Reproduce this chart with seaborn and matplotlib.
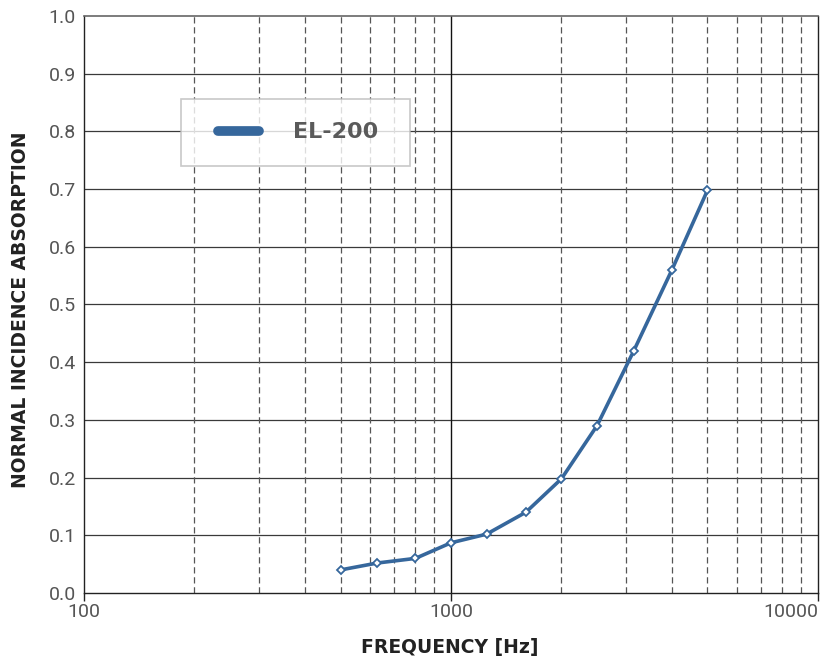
import numpy as np
import pandas as pd
import seaborn as sns
from matplotlib import pyplot as plt
from matplotlib.ticker import FixedLocator, NullFormatter
from matplotlib.lines import Line2D
from matplotlib.legend_handler import HandlerLine2D

# one-third octave band centre frequencies and measured absorption
frequency = [500, 630, 800, 1000, 1250, 1600, 2000, 2500, 3150, 4000, 5000]
absorption = [0.040, 0.052, 0.060, 0.087, 0.102, 0.140, 0.198, 0.290, 0.420, 0.560, 0.698]
series_name = "EL-200"
y_ticks = [0.0, 0.1, 0.2, 0.3, 0.4, 0.5, 0.6, 0.7, 0.8, 0.9, 1.0]
x_ticks = [100, 1000, 10000]

df = pd.DataFrame({"Frequency": frequency, "Absorption": absorption})

sns.set_style("white")
plt.rcParams['font.family'] = ['Roboto', 'DejaVu Sans']

line_color = "#36679c"

fig = plt.figure(figsize=(8.35, 6.6), dpi=100)
ax = fig.add_axes([0.1006, 0.1015, 0.879, 0.8743])

sns.lineplot(data=df, x="Frequency", y="Absorption", ax=ax, color=line_color,
             linewidth=2.6, marker="D", markersize=4.5, markerfacecolor="white",
             markeredgecolor=line_color, markeredgewidth=1.3, zorder=5)

ax.set_xscale("log")
ax.set_xlim(100, 10000)
ax.set_ylim(0, 1.0)

ax.xaxis.set_major_locator(FixedLocator(x_ticks))
ax.xaxis.set_minor_locator(FixedLocator([m * d for d in (100, 1000) for m in range(2, 10)]))
ax.xaxis.set_minor_formatter(NullFormatter())
ax.set_xticklabels([str(v) for v in x_ticks])
ax.get_xticklabels()[-1].set_horizontalalignment("right")
ax.set_yticks(y_ticks)
ax.set_yticklabels(["{:.1f}".format(v) for v in y_ticks])

# grid: solid horizontals, dashed minor verticals, solid at 1000
for v in y_ticks[1:-1]:
    ax.axhline(v, color="#3a3a3a", linewidth=0.9, zorder=1)
for v in ax.xaxis.get_minorticklocs():
    ax.axvline(v, color="#555555", linewidth=0.9, linestyle=(0, (5, 3)), zorder=1)
ax.axvline(1000, color="#111111", linewidth=1.0, zorder=1)

for side in ["left", "right", "bottom"]:
    ax.spines[side].set_color("#222222")
    ax.spines[side].set_linewidth(1.0)
ax.spines["top"].set_color("#666666")
ax.spines["top"].set_linewidth(1.2)

ax.tick_params(axis="x", which="major", length=6, width=1, color="#222222",
               labelsize=14, labelcolor="#555555", pad=1, direction="out", bottom=True)
ax.tick_params(axis="x", which="minor", length=0)
ax.tick_params(axis="y", length=0, labelsize=14, labelcolor="#555555", pad=6)

ax.set_xlabel("")
ax.set_ylabel("")
label_font = {"family": "DejaVu Sans", "size": 13.5, "weight": "bold", "color": "#222222"}
fig.text(0.539, 0.019, "FREQUENCY [Hz]", ha="center", va="center", fontdict=label_font)
fig.text(0.025, 0.53, "NORMAL INCIDENCE ABSORPTION", ha="center", va="center",
         rotation=90, fontdict=label_font)

# legend box ~ fixed width, handle inset from the frame
handle = Line2D([0], [0], color=line_color, linewidth=7, solid_capstyle="round")
leg = ax.legend([handle], [series_name], loc="upper left",
                bbox_to_anchor=(0.132, 0.756, 0.312, 0.1), mode="expand",
                frameon=True, fancybox=False, handlelength=3.1, handletextpad=0.9,
                borderpad=1.05, borderaxespad=0, numpoints=2,
                handler_map={Line2D: HandlerLine2D(marker_pad=0.63)},
                prop={"family": "DejaVu Sans", "size": 16, "weight": "bold"})
leg.get_frame().set_edgecolor("#bbbbbb")
leg.get_frame().set_linewidth(1.2)
for t in leg.get_texts():
    t.set_color("#5a5a5a")
leg.set_zorder(10)

fig.savefig("out.png", dpi=100)
